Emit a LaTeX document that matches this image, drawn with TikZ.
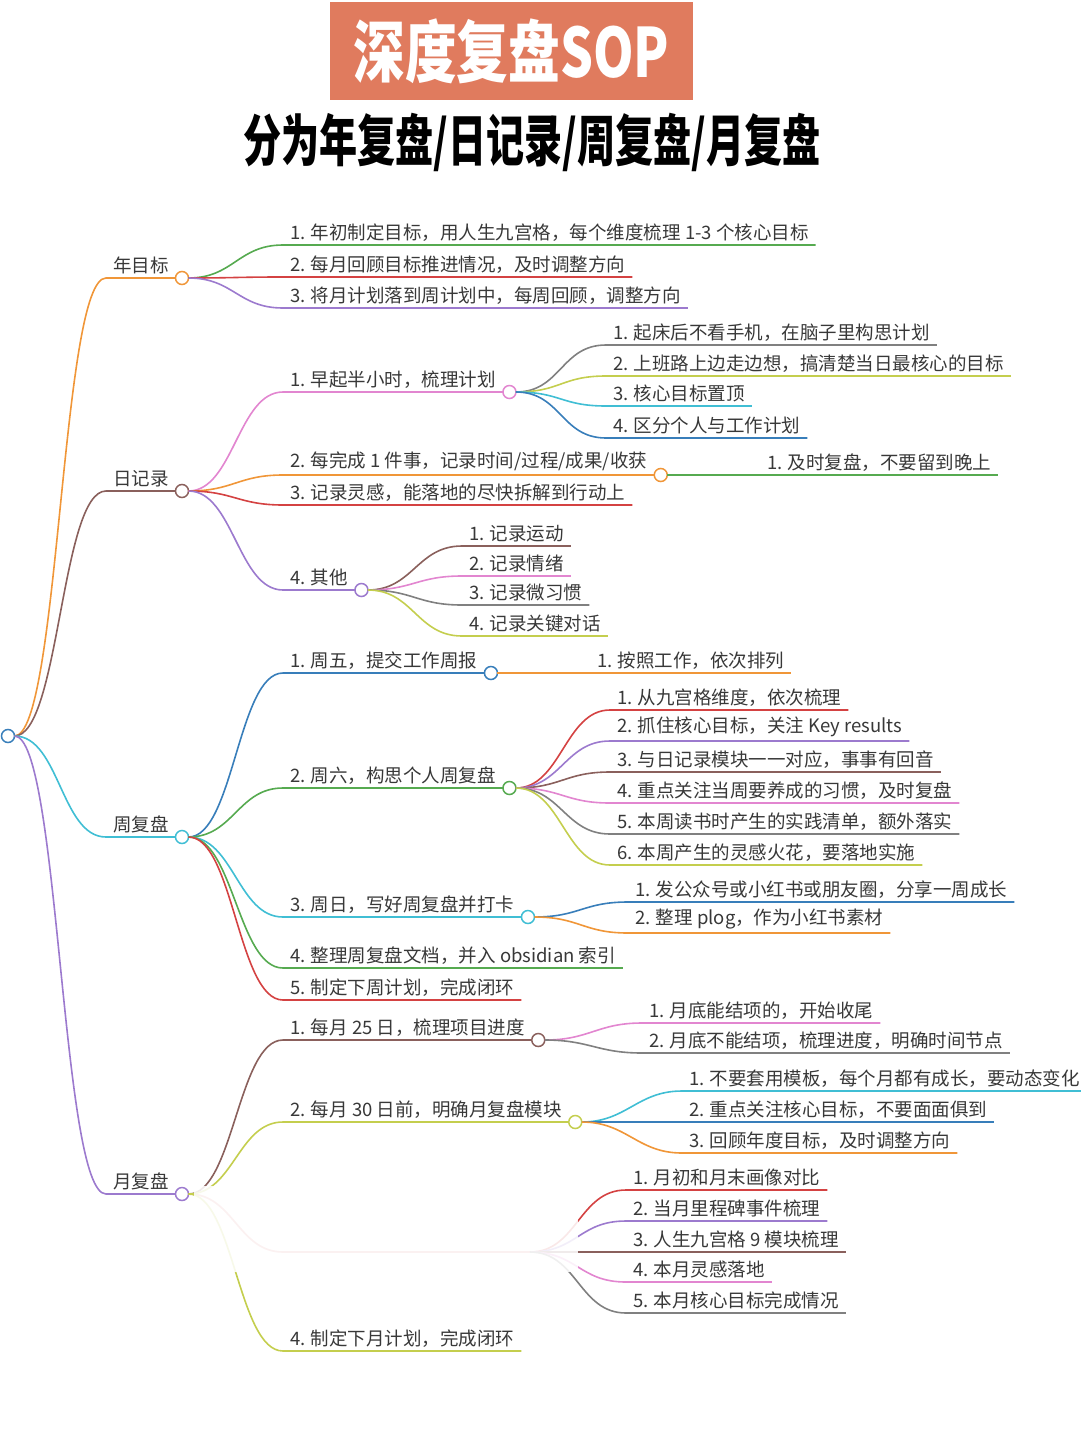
\documentclass[tikz,border=0pt]{standalone}
\usepackage{fontspec}
\usepackage{graphicx}
\setmainfont{Noto Sans CJK SC}
\usepackage{tikz}
\usetikzlibrary{positioning}

\definecolor{mgreen}{RGB}{86,170,80}
\definecolor{mred}{RGB}{212,66,66}
\definecolor{mpurple}{RGB}{156,122,206}
\definecolor{morange}{RGB}{240,150,56}
\definecolor{mbrown}{RGB}{138,96,92}
\definecolor{mpink}{RGB}{226,134,208}
\definecolor{mgray}{RGB}{128,128,128}
\definecolor{mlime}{RGB}{196,206,78}
\definecolor{mcyan}{RGB}{64,190,212}
\definecolor{mblue}{RGB}{56,126,186}
\definecolor{tbox}{RGB}{224,123,94}

\begin{document}
\begin{tikzpicture}[
  x=1pt, y=-1pt,
  lbl/.style={anchor=south west, inner xsep=7pt, inner ysep=4pt, outer sep=0pt,
              text=black!78, font=\fontsize{18.5}{22}\selectfont},
  dot/.style={circle, draw, fill=white, line width=1.5pt, minimum size=13pt,
              inner sep=0pt, outer sep=0pt, anchor=west},
  link/.style={line width=1.6pt}
]
  \useasboundingbox (0,0) rectangle (1080,1443);

  \node[fill=tbox, text=white, minimum width=363pt, minimum height=98pt,
        font=\fontsize{68}{70}\selectfont\bfseries] (title) at (511.5,51)
        {\scalebox{0.76}[1]{深度复盘SOP}};
  \node[font=\fontsize{56}{58}\selectfont\bfseries] (sub) at (532,142)
        {\scalebox{0.68}[1]{分为年复盘/日记录/周复盘/月复盘}};

  \node[dot, draw=mblue, anchor=center] (root) at (8,736) {};

  \node[lbl] (yr) at (106,278)  {年目标};
  \node[lbl] (dy) at (106,491)  {日记录};
  \node[lbl] (wk) at (106,837)  {周复盘};
  \node[lbl] (mo) at (106,1194) {月复盘};

  \node[lbl] (g1) at (283,245) {1. 年初制定目标，用人生九宫格，每个维度梳理 1-3 个核心目标};
  \node[lbl] (g2) at (283,277) {2. 每月回顾目标推进情况，及时调整方向};
  \node[lbl] (g3) at (283,308) {3. 将月计划落到周计划中，每周回顾，调整方向};

  \node[lbl] (d1) at (283,392) {1. 早起半小时，梳理计划};
  \node[lbl] (d2) at (283,475) {2. 每完成 1 件事，记录时间/过程/成果/收获};
  \node[lbl] (d3) at (283,505) {3. 记录灵感，能落地的尽快拆解到行动上};
  \node[lbl] (d4) at (283,590) {4. 其他};

  \node[lbl] (d1a) at (606,345) {1. 起床后不看手机，在脑子里构思计划};
  \node[lbl] (d1b) at (606,376) {2. 上班路上边走边想，搞清楚当日最核心的目标};
  \node[lbl] (d1c) at (606,406) {3. 核心目标置顶};
  \node[lbl] (d1d) at (606,438) {4. 区分个人与工作计划};
  \node[lbl] (d2a) at (760,475) {1. 及时复盘，不要留到晚上};
  \node[lbl] (d4a) at (462,546) {1. 记录运动};
  \node[lbl] (d4b) at (462,576) {2. 记录情绪};
  \node[lbl] (d4c) at (462,605) {3. 记录微习惯};
  \node[lbl] (d4d) at (462,636) {4. 记录关键对话};

  \node[lbl] (w1) at (283,673)  {1. 周五，提交工作周报};
  \node[lbl] (w2) at (283,788)  {2. 周六，构思个人周复盘};
  \node[lbl] (w3) at (283,917)  {3. 周日，写好周复盘并打卡};
  \node[lbl] (w4) at (283,968)  {4. 整理周复盘文档，并入 obsidian 索引};
  \node[lbl] (w5) at (283,1000) {5. 制定下周计划，完成闭环};

  \node[lbl] (w1a) at (590,673) {1. 按照工作，依次排列};
  \node[lbl] (w2a) at (610,710) {1. 从九宫格维度，依次梳理};
  \node[lbl] (w2b) at (610,741) {2. 抓住核心目标，关注 Key results};
  \node[lbl] (w2c) at (610,772) {3. 与日记录模块一一对应，事事有回音};
  \node[lbl] (w2d) at (610,803) {4. 重点关注当周要养成的习惯，及时复盘};
  \node[lbl] (w2e) at (610,834) {5. 本周读书时产生的实践清单，额外落实};
  \node[lbl] (w2f) at (610,865) {6. 本周产生的灵感火花，要落地实施};
  \node[lbl] (w3a) at (628,902) {1. 发公众号或小红书或朋友圈，分享一周成长};
  \node[lbl] (w3b) at (628,933) {2. 整理 plog，作为小红书素材};

  \node[lbl] (m1) at (283,1040) {1. 每月 25 日，梳理项目进度};
  \node[lbl] (m2) at (283,1122) {2. 每月 30 日前，明确月复盘模块};
  \coordinate (m3) at (283,1252);
  \coordinate (m3c) at (530,1252);
  \node[lbl] (m4) at (283,1351) {4. 制定下月计划，完成闭环};

  \node[lbl] (m1a) at (642,1023) {1. 月底能结项的，开始收尾};
  \node[lbl] (m1b) at (642,1053) {2. 月底不能结项，梳理进度，明确时间节点};
  \node[lbl] (m2a) at (682,1091) {1. 不要套用模板，每个月都有成长，要动态变化};
  \node[lbl] (m2b) at (682,1122) {2. 重点关注核心目标，不要面面俱到};
  \node[lbl] (m2c) at (682,1153) {3. 回顾年度目标，及时调整方向};
  \node[lbl] (m3a) at (626,1190) {1. 月初和月末画像对比};
  \node[lbl] (m3b) at (626,1221) {2. 当月里程碑事件梳理};
  \node[lbl] (m3d) at (626,1252) {3. 人生九宫格 9 模块梳理};
  \node[lbl] (m3e) at (626,1282) {4. 本月灵感落地};
  \node[lbl] (m3f) at (626,1313) {5. 本月核心目标完成情况};

  \node[dot, draw=morange] (yrc) at (yr.south east) {};
  \node[dot, draw=mbrown]  (dyc) at (dy.south east) {};
  \node[dot, draw=mcyan]   (wkc) at (wk.south east) {};
  \node[dot, draw=mpurple] (moc) at (mo.south east) {};
  \node[dot, draw=mpink]   (d1c0) at (d1.south east) {};
  \node[dot, draw=morange] (d2c0) at (d2.south east) {};
  \node[dot, draw=mpurple] (d4c0) at (d4.south east) {};
  \node[dot, draw=mblue]   (w1c0) at (w1.south east) {};
  \node[dot, draw=mgreen]  (w2c0) at (w2.south east) {};
  \node[dot, draw=mcyan]   (w3c0) at (w3.south east) {};
  \node[dot, draw=mbrown]  (m1c0) at (m1.south east) {};
  \node[dot, draw=mlime]   (m2c0) at (m2.south east) {};

  \foreach \n/\c in {yr/morange, dy/mbrown, wk/mcyan, mo/mpurple}
    \draw[link,\c] (root.east) .. controls +(45,0) and +(-45,0) .. (\n.south west) -- (\n.south east);

  \foreach \n/\c in {g1/mgreen, g2/mred, g3/mpurple}
    \draw[link,\c] (yrc.east) .. controls +(45,0) and +(-45,0) .. (\n.south west) -- (\n.south east);
  \foreach \n/\c in {d1/mpink, d2/morange, d3/mred, d4/mpurple}
    \draw[link,\c] (dyc.east) .. controls +(45,0) and +(-45,0) .. (\n.south west) -- (\n.south east);
  \foreach \n/\c in {w1/mblue, w2/mgreen, w3/mcyan, w4/mgreen, w5/mred}
    \draw[link,\c] (wkc.east) .. controls +(45,0) and +(-45,0) .. (\n.south west) -- (\n.south east);
  \draw[link,mred!60] (moc.east) .. controls +(45,0) and +(-45,0) .. (m3) -- (m3c);
  \foreach \n/\c in {m1/mbrown, m2/mlime, m4/mlime}
    \draw[link,\c] (moc.east) .. controls +(45,0) and +(-45,0) .. (\n.south west) -- (\n.south east);

  \foreach \n/\c in {d1a/mgray, d1b/mlime, d1c/mcyan, d1d/mblue}
    \draw[link,\c] (d1c0.east) .. controls +(45,0) and +(-45,0) .. (\n.south west) -- (\n.south east);
  \draw[link,mgreen] (d2c0.east) -- (d2a.south east);
  \foreach \n/\c in {d4a/mbrown, d4b/mpink, d4c/mgray, d4d/mlime}
    \draw[link,\c] (d4c0.east) .. controls +(45,0) and +(-45,0) .. (\n.south west) -- (\n.south east);

  \draw[link,morange] (w1c0.east) -- (w1a.south east);
  \foreach \n/\c in {w2a/mred, w2b/mpurple, w2c/mbrown, w2d/mpink, w2e/mgray, w2f/mlime}
    \draw[link,\c] (w2c0.east) .. controls +(45,0) and +(-45,0) .. (\n.south west) -- (\n.south east);
  \foreach \n/\c in {w3a/mblue, w3b/morange}
    \draw[link,\c] (w3c0.east) .. controls +(45,0) and +(-45,0) .. (\n.south west) -- (\n.south east);

  \foreach \n/\c in {m1a/mpink, m1b/mgray}
    \draw[link,\c] (m1c0.east) .. controls +(45,0) and +(-45,0) .. (\n.south west) -- (\n.south east);
  \foreach \n/\c in {m2a/mcyan, m2b/mblue, m2c/morange}
    \draw[link,\c] (m2c0.east) .. controls +(45,0) and +(-45,0) .. (\n.south west) -- (\n.south east);
  \foreach \n/\c in {m3a/mred, m3b/mpurple, m3d/mbrown, m3e/mpink, m3f/mgray}
    \draw[link,\c] (m3c) .. controls +(47,0) and +(-47,0) .. (\n.south west) -- (\n.south east);

  % smudged area under 月复盘
  \fill[white, opacity=0.88] (194,1186) rectangle (578,1272);
\end{tikzpicture}
\end{document}
